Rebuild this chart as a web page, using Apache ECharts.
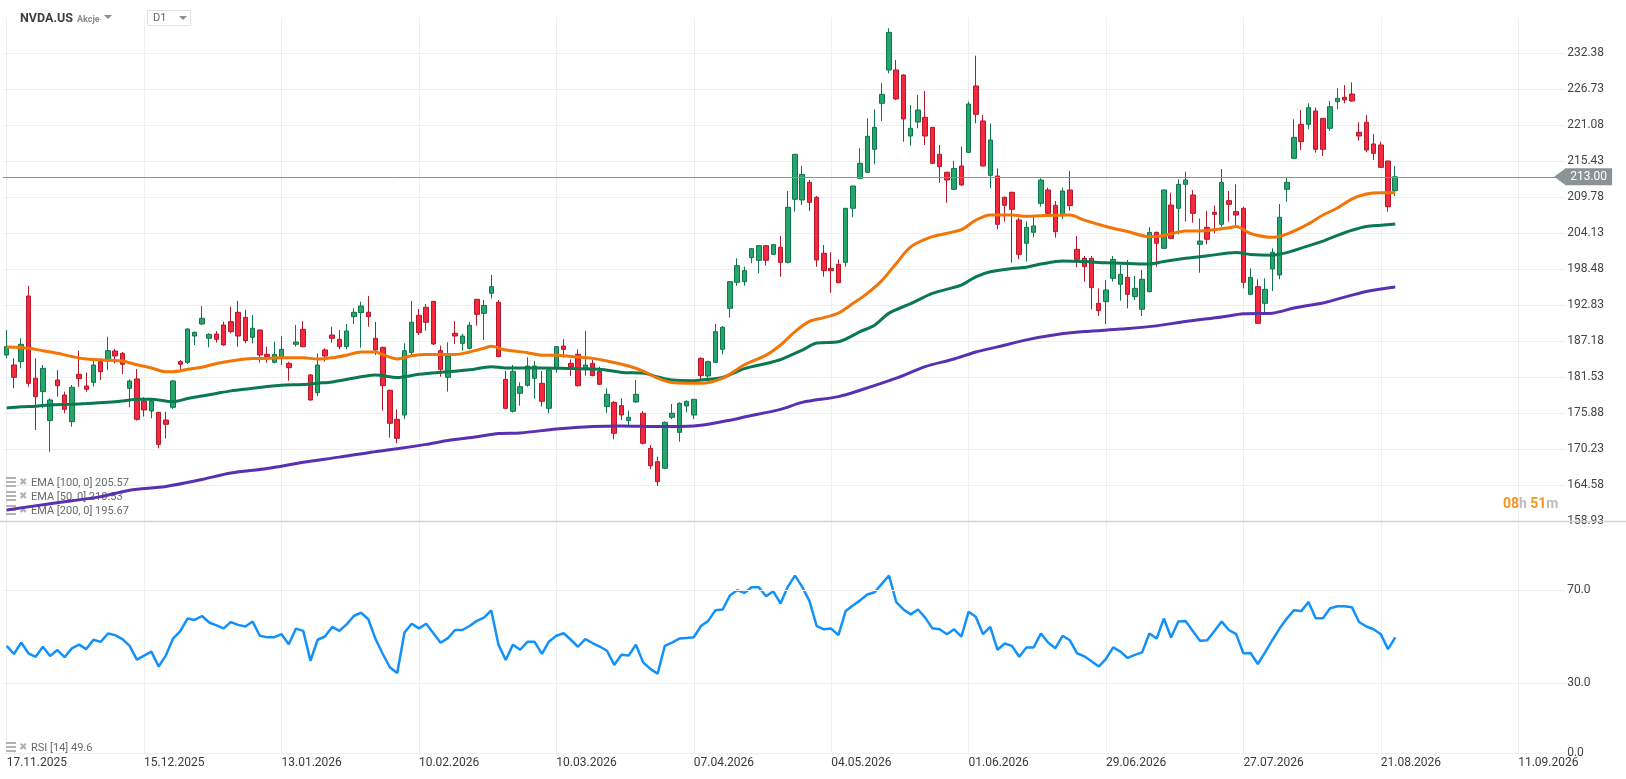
<!DOCTYPE html>
<html style="height: 100%">
<head>
<meta charset="utf-8">
</head>
<body style="height: 100%; margin: 0; background: #fff">
<div id="container" style="width: 1626px; height: 779px"></div>
<script type="text/javascript" src="https://cdn.jsdelivr.net/npm/echarts@6/dist/echarts.min.js"></script>
<script type="text/javascript">
var dom = document.getElementById("container");
var myChart = echarts.init(dom);

// trading days shown (17.11.2025 .. 25.08.2026)
var dates = [
'17.11.2025','18.11.2025','19.11.2025','20.11.2025','21.11.2025','24.11.2025','25.11.2025','26.11.2025','28.11.2025',
'01.12.2025','02.12.2025','03.12.2025','04.12.2025','05.12.2025','08.12.2025','09.12.2025','10.12.2025','11.12.2025','12.12.2025',
'15.12.2025','16.12.2025','17.12.2025','18.12.2025','19.12.2025','22.12.2025','23.12.2025','24.12.2025','26.12.2025','29.12.2025','30.12.2025','31.12.2025',
'02.01.2026','05.01.2026','06.01.2026','07.01.2026','08.01.2026','09.01.2026','12.01.2026','13.01.2026','14.01.2026','15.01.2026','16.01.2026',
'20.01.2026','21.01.2026','22.01.2026','23.01.2026','26.01.2026','27.01.2026','28.01.2026','29.01.2026','30.01.2026',
'02.02.2026','03.02.2026','04.02.2026','05.02.2026','06.02.2026','09.02.2026','10.02.2026','11.02.2026','12.02.2026','13.02.2026',
'17.02.2026','18.02.2026','19.02.2026','20.02.2026','23.02.2026','24.02.2026','25.02.2026','26.02.2026','27.02.2026',
'02.03.2026','03.03.2026','04.03.2026','05.03.2026','06.03.2026','09.03.2026','10.03.2026','11.03.2026','12.03.2026','13.03.2026',
'16.03.2026','17.03.2026','18.03.2026','19.03.2026','20.03.2026','23.03.2026','24.03.2026','25.03.2026','26.03.2026','27.03.2026','30.03.2026','31.03.2026',
'01.04.2026','02.04.2026','06.04.2026','07.04.2026','08.04.2026','09.04.2026','10.04.2026','13.04.2026','14.04.2026','15.04.2026','16.04.2026','17.04.2026',
'20.04.2026','21.04.2026','22.04.2026','23.04.2026','24.04.2026','27.04.2026','28.04.2026','29.04.2026','30.04.2026',
'01.05.2026','04.05.2026','05.05.2026','06.05.2026','07.05.2026','08.05.2026','11.05.2026','12.05.2026','13.05.2026','14.05.2026','15.05.2026',
'18.05.2026','19.05.2026','20.05.2026','21.05.2026','22.05.2026','26.05.2026','27.05.2026','28.05.2026','29.05.2026',
'01.06.2026','02.06.2026','03.06.2026','04.06.2026','05.06.2026','08.06.2026','09.06.2026','10.06.2026','11.06.2026','12.06.2026',
'15.06.2026','16.06.2026','17.06.2026','18.06.2026','22.06.2026','23.06.2026','24.06.2026','25.06.2026','26.06.2026','29.06.2026','30.06.2026',
'01.07.2026','02.07.2026','06.07.2026','07.07.2026','08.07.2026','09.07.2026','10.07.2026','13.07.2026','14.07.2026','15.07.2026','16.07.2026','17.07.2026',
'20.07.2026','21.07.2026','22.07.2026','23.07.2026','24.07.2026','27.07.2026','28.07.2026','29.07.2026','30.07.2026','31.07.2026',
'03.08.2026','04.08.2026','05.08.2026','06.08.2026','07.08.2026','10.08.2026','11.08.2026','12.08.2026','13.08.2026','14.08.2026',
'17.08.2026','18.08.2026','19.08.2026','20.08.2026','21.08.2026','24.08.2026','25.08.2026'
];
// empty slots to the right of the last candle
var futureDates = [
'26.08.2026','27.08.2026','28.08.2026','29.08.2026','30.08.2026','31.08.2026',
'01.09.2026','02.09.2026','03.09.2026','04.09.2026','05.09.2026','06.09.2026','07.09.2026','08.09.2026','09.09.2026',
'10.09.2026','11.09.2026','12.09.2026','13.09.2026','14.09.2026','15.09.2026','16.09.2026','17.09.2026'
];

// [open, close, low, high]
var candles = [
[185.03,186.34,184.51,188.95],[183.46,181.53,179.80,184.51],[183.99,186.71,182.94,187.65],[194.29,180.58,180.06,195.86],[181.37,178.49,173.26,184.51],
[179.28,182.94,176.66,183.46],[174.73,177.97,169.86,178.23],[181.11,180.22,178.49,182.68],[178.75,176.50,175.88,179.28],[174.57,179.96,173.78,180.32],
[182.00,181.32,180.06,185.71],[180.17,179.65,179.28,182.26],[180.74,183.46,180.06,184.51],[183.99,182.42,181.11,184.51],[184.09,185.71,182.68,187.91],
[185.66,184.88,183.72,186.00],[185.29,183.57,182.05,185.50],[179.80,180.95,176.82,181.21],[181.27,174.93,174.73,182.83],[177.81,176.40,175.36,178.39],
[176.24,177.81,175.09,178.23],[176.03,171.01,170.38,176.10],[174.83,174.15,171.95,176.14],[176.82,180.95,176.56,181.11],[183.99,183.57,182.68,184.25],
[183.88,189.11,183.62,189.22],[188.01,188.59,186.60,188.70],[189.90,190.79,189.74,192.72],[187.65,188.27,186.23,188.43],[188.33,187.49,186.97,188.80],
[189.74,186.60,186.50,190.26],[190.26,188.69,188.43,192.62],[191.73,188.01,186.34,193.51],[190.94,187.28,186.86,192.10],[187.80,189.22,186.86,191.31],
[188.95,185.03,183.83,189.06],[185.13,184.77,183.83,186.34],[183.88,185.13,183.72,187.12],[184.77,185.92,183.46,188.01],[183.72,183.04,181.00,183.99],
[186.71,187.07,186.34,189.74],[189.06,186.34,186.20,190.37],[181.89,177.97,177.87,182.05],[179.12,183.46,178.60,185.29],[185.82,184.87,183.99,186.08],
[188.17,187.65,186.97,189.48],[187.49,186.34,185.92,188.95],[186.34,188.80,185.92,189.90],[191.05,191.73,189.90,192.36],[191.68,192.72,186.18,193.40],
[191.73,191.05,189.48,194.29],[187.65,185.82,185.03,190.21],[186.23,180.22,176.29,186.34],[179.49,174.31,172.06,179.60],[174.94,171.95,171.17,176.51],
[175.62,185.71,174.94,186.86],[185.45,190.16,185.03,193.51],[191.26,188.54,188.17,192.25],[192.51,190.16,188.85,193.04],[193.45,186.76,186.60,193.50],
[185.71,182.78,181.63,186.50],[181.53,184.87,179.28,187.02],[188.43,188.01,186.76,190.37],[186.86,188.01,185.71,188.33],[186.08,189.69,185.90,190.21],
[193.77,191.41,189.64,193.80],[191.57,192.82,187.39,193.66],[194.71,195.76,193.92,197.59],[193.30,184.77,184.70,193.66],[181.21,176.66,176.50,182.52],
[176.19,182.47,176.00,183.46],[179.02,180.06,177.08,180.74],[180.27,183.30,180.06,184.66],[181.37,183.30,178.18,184.09],[180.58,177.76,176.97,182.52],
[176.66,182.68,175.88,182.94],[182.94,186.34,182.26,186.44],[186.44,185.92,184.61,187.49],[183.72,183.20,181.73,184.35],[185.14,180.22,180.06,185.92],
[182.94,183.46,181.79,188.80],[183.72,181.79,181.70,184.25],[182.47,180.43,180.30,183.20],[176.92,178.86,175.98,179.80],[177.60,172.74,171.80,177.81],
[177.08,175.62,174.83,178.23],[174.73,175.25,174.05,176.29],[177.66,178.86,177.50,181.11],[175.88,171.17,171.00,176.24],[170.38,167.66,167.09,170.91],
[168.29,165.15,164.47,169.08],[167.25,174.47,167.10,174.60],[175.25,175.88,174.94,177.34],[172.89,177.45,171.43,177.60],[177.03,177.76,176.03,177.90],
[175.61,178.07,174.99,178.10],[184.51,181.79,181.11,184.66],[181.74,183.99,181.11,184.14],[183.88,188.69,183.80,189.90],[185.92,189.37,185.14,189.58],
[192.36,196.54,190.89,196.60],[196.43,199.05,195.91,200.20],[196.54,198.27,195.91,198.89],[200.31,201.72,199.42,201.80],[199.89,202.19,197.85,202.30],
[202.19,199.89,199.05,202.30],[200.83,202.35,200.70,202.40],[201.93,199.57,197.33,203.71],[199.57,208.21,199.40,210.77],[209.46,216.52,207.53,216.60],
[209.36,213.38,208.57,214.69],[212.13,208.99,207.63,212.50],[209.78,199.94,198.89,209.98],[200.99,198.27,197.33,202.29],[198.63,198.27,194.81,201.14],
[199.26,196.38,196.28,200.04],[199.57,208.05,198.89,208.10],[208.05,211.55,206.64,211.60],[212.76,215.11,212.60,217.46],[213.70,219.35,213.60,222.17],
[217.31,220.76,214.95,223.59],[224.53,225.94,221.76,227.67],[229.76,235.67,229.24,236.30],[229.76,225.21,225.05,231.33],[228.97,222.07,218.51,229.08],
[219.40,220.61,217.88,224.27],[221.60,223.48,220.61,225.84],[222.33,219.40,217.99,226.46],[220.76,215.11,215.01,220.80],[216.52,214.59,212.08,217.99],
[213.70,212.50,208.94,213.80],[211.03,214.32,210.90,215.48],[214.69,211.71,211.60,217.73],[216.84,224.42,216.70,224.79],[227.25,222.80,221.39,232.01],
[221.76,214.69,214.60,222.70],[213.23,218.77,211.19,221.39],[213.12,205.54,204.75,214.32],[209.78,208.52,205.96,209.90],[210.56,207.89,199.52,210.67],
[206.22,200.83,200.04,206.58],[202.56,205.07,199.68,206.00],[204.28,205.28,203.50,207.00],[208.83,212.49,208.31,212.76],[210.93,207.27,207.20,211.29],
[208.52,204.39,203.44,209.20],[207.00,210.77,206.37,211.29],[210.93,208.47,207.68,213.91],[201.61,200.04,198.79,203.71],[200.20,198.89,196.54,200.57],
[200.20,195.60,192.20,200.57],[193.14,191.99,191.15,195.49],[193.40,195.23,189.90,196.80],[197.06,200.04,196.54,200.57],[196.12,197.69,193.56,199.16],
[197.22,194.55,192.35,199.94],[194.19,195.49,193.66,197.43],[192.20,196.91,191.15,198.37],[194.97,204.28,194.87,205.07],[204.28,202.56,198.89,204.39],
[201.77,210.93,201.70,211.00],[208.57,203.34,203.20,210.51],[208.05,211.81,203.97,212.60],[211.81,212.49,205.96,213.80],[210.14,207.26,205.80,210.93],
[202.40,202.92,197.95,206.48],[205.07,203.19,202.40,207.63],[207.42,207.11,204.13,208.47],[205.54,212.13,205.17,214.22],[209.25,208.68,205.96,210.77],
[207.53,207.00,205.33,211.82],[208.05,196.44,195.49,208.31],[194.55,197.22,194.40,198.63],[195.76,190.00,189.90,196.91],[193.14,195.34,191.68,197.06],
[198.53,201.14,195.07,201.77],[197.59,206.64,196.91,208.73],[211.03,212.13,209.09,212.86],[215.89,219.19,215.80,222.02],[221.23,218.51,217.20,223.48],
[221.23,223.85,220.45,224.53],[223.33,217.31,216.79,223.85],[222.17,217.31,216.26,222.20],[220.60,224.00,220.24,224.89],[224.79,225.31,223.64,226.88],
[225.47,225.05,224.53,227.41],[225.99,224.89,224.80,227.82],[219.98,219.40,218.67,221.55],[221.55,217.20,216.84,222.70],[218.15,216.68,215.63,219.72],
[217.99,214.48,214.40,218.51],[215.48,208.31,207.53,215.50],[210.82,213.00,209.99,214.69]
];

// moving averages read at [candle index, value]
var ema50 = [
[0,186.3],[3,186.1],[5,185.7],[7,185.3],[9,184.8],[11,184.4],[14,184.2],[16,184.1],[18,183.5],[20,183.0],[22,182.4],[23,182.4],
[25,182.8],[27,183.1],[29,183.7],[31,184.1],[34,184.5],[36,184.5],[38,184.6],[41,184.6],[43,184.4],[45,184.6],[47,185.0],[49,185.5],
[51,185.5],[52,185.1],[54,184.4],[56,184.9],[58,185.1],[62,185.1],[64,185.5],[66,186.1],[67,186.4],[69,185.8],[72,185.4],[74,185.0],
[76,185.0],[78,184.8],[81,184.5],[83,184.1],[86,183.3],[88,182.5],[90,181.4],[92,180.7],[94,180.6],[96,180.6],[99,181.4],[102,183.5],
[105,185.0],[107,186.6],[109,188.7],[111,190.3],[113,190.9],[115,191.6],[117,193.1],[119,194.7],[121,196.7],[123,199.4],[125,202.0],
[128,203.6],[132,204.7],[134,206.2],[136,207.0],[139,207.0],[141,206.8],[143,206.9],[147,207.0],[149,206.2],[152,205.2],[155,204.4],
[158,203.6],[160,203.8],[163,204.5],[165,204.5],[169,205.0],[170,205.2],[172,204.1],[175,203.5],[177,204.0],[180,205.6],[182,207.0],
[184,208.1],[186,209.5],[188,210.3],[190,210.5],[192,210.5]
];
var ema100 = [
[0,176.7],[2,176.9],[4,177.0],[6,177.2],[9,177.3],[11,177.4],[14,177.6],[16,177.8],[18,178.1],[20,178.1],[22,177.8],[23,177.7],
[25,178.2],[27,178.6],[29,179.0],[31,179.4],[34,179.8],[36,180.1],[38,180.3],[41,180.4],[43,180.6],[45,180.8],[47,181.2],[49,181.6],
[51,181.9],[54,181.5],[57,182.0],[61,182.4],[64,182.7],[67,183.2],[69,183.0],[74,183.0],[78,182.9],[82,182.8],[85,182.3],[88,182.2],
[90,181.6],[92,181.1],[95,181.0],[96,181.1],[99,181.5],[102,182.9],[105,183.7],[107,184.3],[110,185.8],[112,186.9],[115,187.1],
[118,188.7],[120,189.7],[122,191.6],[125,193.1],[128,194.7],[132,196.0],[134,197.3],[136,198.1],[139,198.6],[141,198.8],[143,199.3],
[146,199.8],[149,199.7],[152,199.5],[155,199.4],[158,199.3],[160,199.7],[163,200.2],[166,200.6],[170,201.1],[172,200.8],[175,200.7],
[177,201.1],[179,201.8],[182,202.9],[184,203.8],[186,204.6],[188,205.2],[190,205.4],[192,205.6]
];
var ema200 = [
[0,160.7],[6,161.7],[13,162.8],[17,163.8],[22,164.4],[27,165.5],[31,166.5],[36,167.2],[41,168.2],[46,169.0],[50,169.7],[54,170.3],
[58,171.0],[61,171.6],[65,172.2],[68,172.7],[71,172.8],[76,173.4],[81,173.8],[85,173.9],[90,173.8],[95,173.9],[100,174.8],[102,175.3],
[107,176.5],[110,177.6],[115,178.5],[118,179.5],[123,181.4],[127,183.2],[131,184.4],[134,185.5],[137,186.3],[141,187.4],[145,188.2],
[149,188.7],[154,189.1],[159,189.6],[163,190.3],[168,191.0],[171,191.5],[175,191.6],[178,192.4],[182,193.2],[184,193.8],[188,195.0],
[192,195.7]
];

var rsi = [
46.0,42.5,47.4,42.8,41.3,45.6,41.6,44.2,41.1,44.9,
46.5,44.6,48.6,47.7,51.3,50.6,48.9,46.0,40.1,41.8,
43.5,37.1,41.8,49.1,52.3,57.7,57.1,58.8,56.0,54.8,
53.5,56.2,55.0,54.3,56.4,50.3,49.7,49.7,51.0,46.7,
53.4,52.4,39.6,48.6,50.0,54.1,52.4,55.2,58.8,60.2,
57.4,48.9,42.5,36.7,34.3,51.7,55.5,53.5,55.5,51.4,
47.3,49.3,52.8,52.8,54.5,56.7,58.1,61.2,46.5,39.9,
46.5,44.3,47.7,47.7,42.5,47.9,50.3,51.4,48.6,45.6,
48.9,47.2,45.7,43.9,37.8,42.2,41.8,46.5,38.9,36.1,
34.0,46.0,47.4,49.1,49.4,49.7,54.5,56.7,61.3,61.6,
67.6,69.9,68.7,71.1,71.1,67.3,69.4,64.2,71.3,76.1,
71.3,65.2,54.5,53.1,53.4,50.6,60.9,63.3,65.5,68.0,
69.0,72.6,76.2,64.8,61.6,59.5,61.6,58.1,53.5,53.1,
51.0,53.1,49.9,60.6,58.5,51.0,54.1,44.3,47.0,46.0,
41.3,45.3,45.3,51.3,47.4,45.0,50.3,48.4,42.8,41.5,
39.4,37.1,40.4,45.3,43.5,40.8,42.1,43.2,51.3,49.1,
57.7,49.6,56.4,56.7,52.4,48.2,48.4,52.4,56.4,52.8,
51.0,42.8,42.9,38.2,43.2,48.4,53.4,57.7,61.3,60.9,
64.8,57.8,57.8,62.1,63.0,63.0,62.6,56.2,54.3,53.1,
51.0,44.6,49.6
];

var priceLabels = ['158.93','164.58','170.23','175.88','181.53','187.18','192.83','198.48','204.13','209.78','215.43','221.08','226.73','232.38'];
var rsiLabels = [0, 30, 70];
var lastPrice = 213.00;
var legendRows = ['EMA [100, 0] 205.57', 'EMA [50, 0] 210.53', 'EMA [200, 0] 195.67'];
var rsiLegend = 'RSI [14] 49.6';

var upColor = '#24a66c';
var upBorderColor = '#11744a';
var downColor = '#f5283d';
var downBorderColor = '#b01a2b';
var gridColor = '#efefef';
var tagColor = '#8a9295';

var categories = dates.concat(futureDates);
var priceMin = Number(priceLabels[0]);
var priceStep = Number(priceLabels[1]) - Number(priceLabels[0]);

function legendItem(text, y) {
    return [
        {type: 'rect', z: 1, shape: {x: 6, y: y - 5, width: 10, height: 2}, style: {fill: '#b3b3b3'}},
        {type: 'rect', z: 1, shape: {x: 6, y: y - 1, width: 10, height: 2}, style: {fill: '#b3b3b3'}},
        {type: 'rect', z: 1, shape: {x: 6, y: y + 3, width: 10, height: 2}, style: {fill: '#b3b3b3'}},
        {type: 'text', z: 1, x: 19, y: y, style: {text: '\u2716', fill: '#b3b3b3', fontSize: 10, verticalAlign: 'middle'}},
        {type: 'text', z: 1, x: 31, y: y + 1, style: {text: text, fill: '#6a6a6a', fontSize: 11, fontFamily: 'Roboto', verticalAlign: 'middle'}}
    ];
}

var chrome = [
    {type: 'text', id: 'sym', z: 5, x: 20, y: 19, style: {text: 'NVDA.US', fill: '#3b4044', fontSize: 12.5, fontWeight: 'bold', fontFamily: 'Roboto', verticalAlign: 'middle'}},
    {type: 'text', id: 'kind', z: 5, x: 77, y: 20, style: {text: 'Akcje', fill: '#8c8c8c', fontSize: 9, fontWeight: 'bold', fontFamily: 'Roboto', verticalAlign: 'middle'}},
    {type: 'polygon', id: 'dd1', z: 5, shape: {points: [[104, 15], [112, 15], [108, 19]]}, style: {fill: '#8c8c8c'}},
    {type: 'rect', id: 'tfbox', z: 5, shape: {x: 147.5, y: 10.5, width: 43, height: 15}, style: {fill: '#fff', stroke: '#e2e2e2', lineWidth: 1}},
    {type: 'text', id: 'tf', z: 6, x: 153, y: 18.5, style: {text: 'D1', fill: '#666', fontSize: 11, fontFamily: 'Roboto', verticalAlign: 'middle'}},
    {type: 'polygon', id: 'dd2', z: 6, shape: {points: [[179, 16], [187, 16], [183, 20]]}, style: {fill: '#8c8c8c'}},
    {type: 'line', id: 'sep', z: 5, shape: {x1: 0, y1: 521.5, x2: 1626, y2: 521.5}, style: {stroke: '#d3d3d3', lineWidth: 1.5}},
    {type: 'text', id: 'timer', z: 5, x: 1503, y: 504, style: {
        text: '{o|08}{g|h} {o|51}{g|m}', verticalAlign: 'middle',
        rich: {
            o: {fill: '#f7941d', fontSize: 14, fontWeight: 'bold', fontFamily: 'Roboto'},
            g: {fill: '#bdbdbd', fontSize: 14, fontWeight: 'bold', fontFamily: 'Roboto'}
        }
    }}
];
legendRows.forEach(function (t, k) {
    chrome = chrome.concat(legendItem(t, 482 + k * 14));
});
chrome = chrome.concat(legendItem(rsiLegend, 747));

var xAxisBase = {
    type: 'category',
    data: categories,
    boundaryGap: true,
    axisLine: {show: false},
    axisTick: {show: false, alignWithLabel: true, interval: 18},
    splitLine: {show: true, interval: 18, alignWithLabel: true, lineStyle: {color: gridColor, width: 1}}
};

var option = {
    animation: false,
    backgroundColor: '#fff',
    textStyle: {fontFamily: 'Roboto, sans-serif'},
    grid: [
        {left: 3.1, right: 60.8, top: 17.3, height: 504},
        {left: 3.1, right: 60.8, top: 520, height: 233}
    ],
    xAxis: [
        Object.assign({}, xAxisBase, {gridIndex: 0, axisLabel: {show: false, interval: 18}}),
        Object.assign({}, xAxisBase, {
            gridIndex: 1,
            axisLine: {show: true, lineStyle: {color: gridColor}},
            axisLabel: {show: true, interval: 18, align: 'left', color: '#3a3a3a', fontSize: 12, margin: 4}
        })
    ],
    yAxis: [
        {
            gridIndex: 0,
            type: 'value',
            position: 'right',
            min: priceMin,
            max: priceMin + priceStep * priceLabels.length,
            interval: priceStep,
            axisLine: {show: false},
            axisTick: {show: false},
            axisLabel: {
                color: '#444', fontSize: 12, margin: 2, showMaxLabel: false,
                formatter: function (v) { return v.toFixed(2); }
            },
            splitLine: {show: true, showMaxLine: false, lineStyle: {color: gridColor}}
        },
        {
            gridIndex: 1,
            type: 'value',
            position: 'right',
            min: 0,
            max: 100,
            interval: 10,
            axisLine: {show: false},
            axisTick: {show: false},
            axisLabel: {
                color: '#444', fontSize: 12, margin: 2,
                formatter: function (v) {
                    return rsiLabels.indexOf(Math.round(v)) >= 0 ? v.toFixed(1) : '';
                }
            },
            splitLine: {show: false}
        }
    ],
    graphic: {elements: chrome},
    series: [
        {
            name: 'NVDA.US',
            type: 'candlestick',
            xAxisIndex: 0,
            yAxisIndex: 0,
            data: candles,
            barWidth: 5,
            itemStyle: {
                color: upColor,
                color0: downColor,
                borderColor: upBorderColor,
                borderColor0: downBorderColor,
                borderWidth: 1
            },
            markLine: {
                silent: true,
                symbol: 'none',
                lineStyle: {color: tagColor, width: 1, type: 'solid'},
                label: {
                    show: true,
                    position: 'end',
                    distance: 0,
                    formatter: function () { return lastPrice.toFixed(2); },
                    color: '#fff',
                    fontSize: 12,
                    backgroundColor: tagColor,
                    padding: [3, 5, 2, 5]
                },
                data: [{yAxis: lastPrice}]
            }
        },
        {name: 'EMA200', type: 'line', xAxisIndex: 0, yAxisIndex: 0, data: ema200, smooth: 0.3, showSymbol: false,
            lineStyle: {color: '#5a30b3', width: 3}},
        {name: 'EMA100', type: 'line', xAxisIndex: 0, yAxisIndex: 0, data: ema100, smooth: 0.3, showSymbol: false,
            lineStyle: {color: '#0a7a4e', width: 3}},
        {name: 'EMA50', type: 'line', xAxisIndex: 0, yAxisIndex: 0, data: ema50, smooth: 0.3, showSymbol: false,
            lineStyle: {color: '#f27607', width: 3}},
        {
            name: 'RSI', type: 'line', xAxisIndex: 1, yAxisIndex: 1, data: rsi, showSymbol: false,
            lineStyle: {color: '#1291fb', width: 2.5},
            markLine: {
                silent: true,
                symbol: 'none',
                label: {show: false},
                lineStyle: {color: gridColor, width: 1, type: 'solid'},
                data: [{yAxis: 30}, {yAxis: 70}]
            }
        }
    ]
};

myChart.setOption(option, true);

// arrow of the last price tag, placed through the axes
var tagY = myChart.convertToPixel({yAxisIndex: 0}, lastPrice);
var band = myChart.convertToPixel({xAxisIndex: 0}, 1) - myChart.convertToPixel({xAxisIndex: 0}, 0);
var gridRight = myChart.convertToPixel({xAxisIndex: 0}, categories.length - 1) + band / 2;
myChart.setOption({
    graphic: {elements: [
        {type: 'polygon', id: 'tagArrow', z: 100,
            shape: {points: [[gridRight - 11, tagY], [gridRight + 0.5, tagY - 8.5], [gridRight + 0.5, tagY + 8.5]]},
            style: {fill: tagColor}}
    ]}
});
</script>
</body>
</html>
